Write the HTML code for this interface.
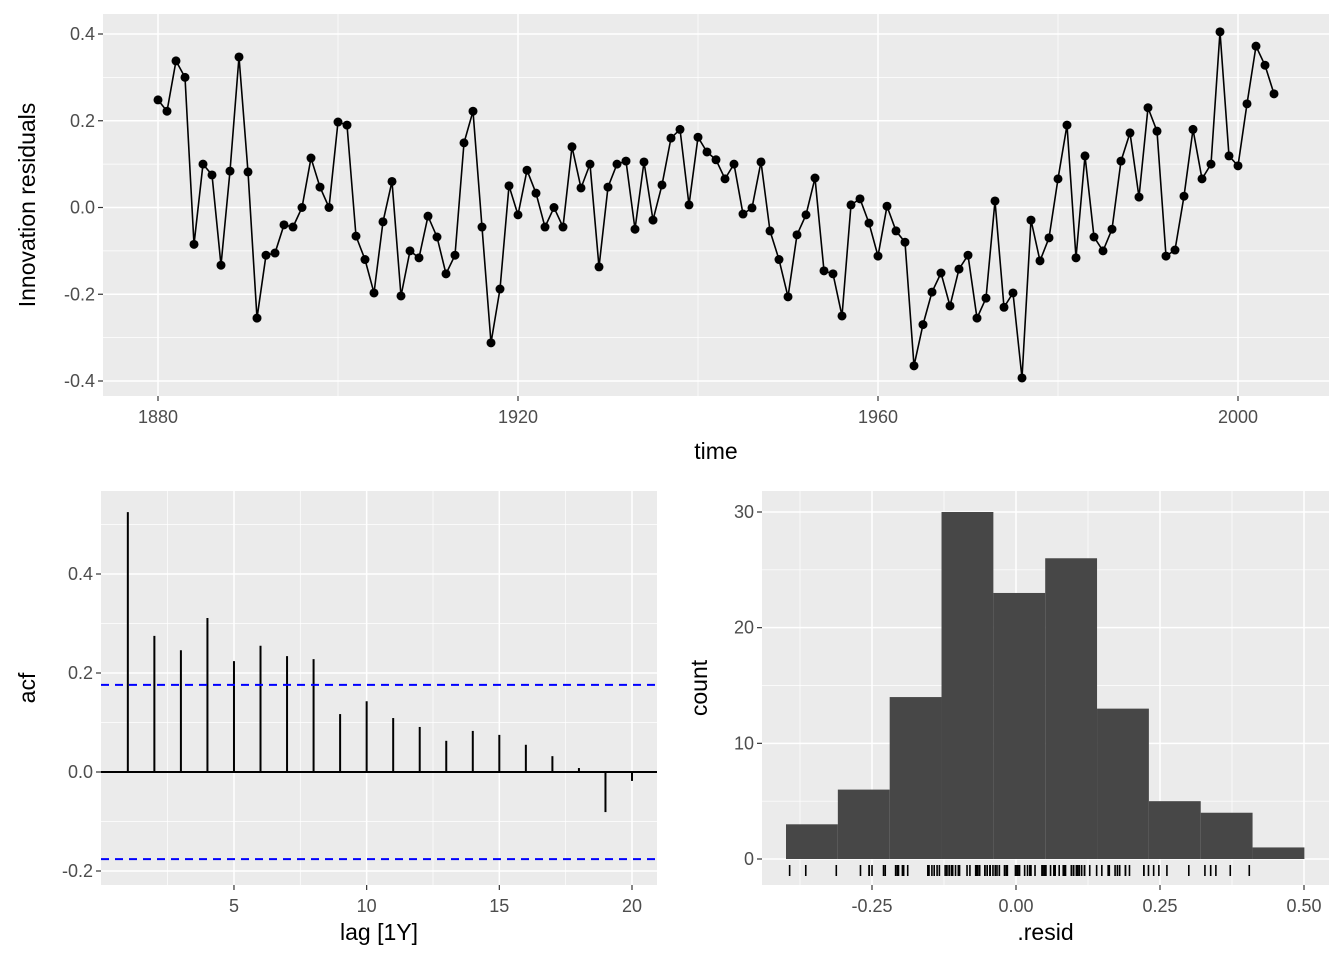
<!DOCTYPE html>
<html><head><meta charset="utf-8"><style>
body{margin:0;background:#fff;}
svg{display:block;font-family:"Liberation Sans",Arial,sans-serif;}
</style></head><body>
<svg id="c" width="1344" height="960"></svg>
<script>
const years = []; for (let y = 1880; y <= 2004; y++) years.push(y);
const resid = [0.248,0.222,0.338,0.30,-0.085,0.10,0.075,-0.133,0.084,0.347,0.082,-0.255,-0.11,-0.105,-0.04,-0.045,0.0,0.114,0.047,0.0,
0.197,0.19,-0.066,-0.12,-0.197,-0.033,0.06,-0.204,-0.1,-0.116,-0.02,-0.068,-0.153,-0.11,0.149,0.222,-0.045,-0.312,-0.188,0.05,
-0.017,0.086,0.033,-0.045,0.0,-0.045,0.14,0.045,0.1,-0.137,0.047,0.10,0.107,-0.05,0.105,-0.029,0.052,0.16,0.18,0.006,
0.162,0.128,0.11,0.066,0.1,-0.015,-0.001,0.105,-0.054,-0.12,-0.206,-0.063,-0.017,0.068,-0.146,-0.153,-0.25,0.006,0.02,-0.036,
-0.112,0.003,-0.054,-0.08,-0.365,-0.27,-0.195,-0.151,-0.227,-0.142,-0.11,-0.255,-0.209,0.015,-0.23,-0.197,-0.393,-0.029,-0.123,-0.07,
0.066,0.19,-0.116,0.119,-0.068,-0.1,-0.05,0.107,0.172,0.024,0.23,0.176,-0.112,-0.098,0.026,0.18,0.066,0.1,0.405,0.119,
0.096,0.239,0.372,0.328,0.262];
const lags = [1,2,3,4,5,6,7,8,9,10,11,12,13,14,15,16,17,18,19,20];
const acf = [0.525,0.275,0.246,0.311,0.224,0.255,0.234,0.228,0.117,0.143,0.109,0.091,0.063,0.083,0.075,0.055,0.032,0.008,-0.081,-0.018];
const ciBound = 0.176;
const binStarts = [-0.3993,-0.3093,-0.2193,-0.1293,-0.0393,0.0507,0.1407,0.2307,0.3207,0.4107];
const binWidth = 0.09;
const counts = [3,6,14,30,23,26,13,5,4,1];

const NS="http://www.w3.org/2000/svg", svg=document.getElementById('c');
function el(t,a,p){const e=document.createElementNS(NS,t);for(const k in a)e.setAttribute(k,a[k]);(p||svg).appendChild(e);return e;}
function txt(s,a,p){const e=el('text',a,p);e.textContent=s;return e;}
function lin(d0,d1,r0,r1){return v=>r0+(v-d0)/(d1-d0)*(r1-r0);}

function panel(name,x0,y0,x1,y1,sx,sy,xmaj,xmin,ymaj,ymin,xlab,ylab,xtitle,xtY){
  const g=el('g',{});  
  el('rect',{x:x0,y:y0,width:x1-x0,height:y1-y0,fill:'#ebebeb'},g);
  xmin.forEach(v=>el('line',{x1:sx(v),x2:sx(v),y1:y0,y2:y1,stroke:'#fff','stroke-width':0.7},g));
  ymin.forEach(v=>el('line',{y1:sy(v),y2:sy(v),x1:x0,x2:x1,stroke:'#fff','stroke-width':0.7},g));
  xmaj.forEach(v=>el('line',{x1:sx(v),x2:sx(v),y1:y0,y2:y1,stroke:'#fff','stroke-width':1.5},g));
  ymaj.forEach(v=>el('line',{y1:sy(v),y2:sy(v),x1:x0,x2:x1,stroke:'#fff','stroke-width':1.5},g));
  xmaj.forEach((v,i)=>{el('line',{x1:sx(v),x2:sx(v),y1:y1,y2:y1+5,stroke:'#333','stroke-width':1.2},g);
    const t=txt(xlab[i],{x:sx(v),y:y1+27,'font-size':18,fill:'#4d4d4d','text-anchor':'middle'},g);
    });
  ymaj.forEach((v,i)=>{el('line',{y1:sy(v),y2:sy(v),x1:x0-5,x2:x0,stroke:'#333','stroke-width':1.2},g);
    const t=txt(ylab[i],{x:x0-8,y:sy(v)+6,'font-size':18,fill:'#4d4d4d','text-anchor':'end'},g);
    });
  const xt=txt(xtitle,{x:(x0+x1)/2,y:xtY,'font-size':23,fill:'#000','text-anchor':'middle'},g);
  
  return g;
}

// Top panel
{const x0=103,x1=1329,y0=14,y1=396;
 const sx=lin(1880,2000,158,1238), sy=lin(0,0.4,207.5,34);
 const g=panel('residual-time-plot',x0,y0,x1,y1,sx,sy,[1880,1920,1960,2000],[1900,1940,1980],[-0.4,-0.2,0,0.2,0.4],[-0.3,-0.1,0.1,0.3],
  ['1880','1920','1960','2000'],['-0.4','-0.2','0.0','0.2','0.4'],'time',459);
 const yt=txt('Innovation residuals',{x:0,y:0,'font-size':23,fill:'#000','text-anchor':'middle',transform:`translate(35,${(y0+y1)/2}) rotate(-90)`},g);
 
 const pl=el('polyline',{points:years.map((y,i)=>sx(y)+','+sy(resid[i])).join(' '),fill:'none',stroke:'#000','stroke-width':1.6},g);
 
 years.forEach((y,i)=>{const c=el('circle',{cx:sx(y),cy:sy(resid[i]),r:4.5,fill:'#000'},g);
  });
}
// ACF panel
{const x0=101,x1=657,y0=491,y1=885;
 const sx=lin(0,20,101.3,632), sy=lin(0,0.4,772,574);
 const g=panel('acf-plot',x0,y0,x1,y1,sx,sy,[5,10,15,20],[2.5,7.5,12.5,17.5],[-0.2,0,0.2,0.4],[-0.1,0.1,0.3,0.5],
  ['5','10','15','20'],['-0.2','0.0','0.2','0.4'],'lag [1Y]',940);
 const yt=txt('acf',{x:0,y:0,'font-size':23,fill:'#000','text-anchor':'middle',transform:`translate(35,${(y0+y1)/2}) rotate(-90)`},g);
 
 const z=el('line',{x1:x0,x2:x1,y1:sy(0),y2:sy(0),stroke:'#000','stroke-width':2},g);
 
 lags.forEach((l,i)=>{const s=el('line',{x1:sx(l),x2:sx(l),y1:sy(0),y2:sy(acf[i]),stroke:'#000','stroke-width':2},g);
  });
 [ciBound,-ciBound].forEach(b=>{const d=el('line',{x1:x0,x2:x1,y1:sy(b),y2:sy(b),stroke:'#0000ff','stroke-width':2,'stroke-dasharray':'8,6'},g);
  });
}
// Histogram panel
{const x0=762,x1=1329,y0=491,y1=885;
 const sx=lin(0,0.25,1016,1160), sy=lin(0,30,859,512);
 const g=panel('residual-histogram',x0,y0,x1,y1,sx,sy,[-0.25,0,0.25,0.5],[-0.375,-0.125,0.125,0.375],[0,10,20,30],[5,15,25],
  ['-0.25','0.00','0.25','0.50'],['0','10','20','30'],'.resid',940);
 const yt=txt('count',{x:0,y:0,'font-size':23,fill:'#000','text-anchor':'middle',transform:`translate(707,${(y0+y1)/2}) rotate(-90)`},g);
 
 binStarts.forEach((b,i)=>{const r=el('rect',{x:sx(b),y:sy(counts[i]),width:sx(b+binWidth)-sx(b),height:sy(0)-sy(counts[i]),fill:'#474747'},g);
  });
 resid.forEach(v=>{const r=el('line',{x1:sx(v),x2:sx(v),y1:865,y2:876,stroke:'#000','stroke-width':1.6},g);
  });
}
</script>
</body></html>
